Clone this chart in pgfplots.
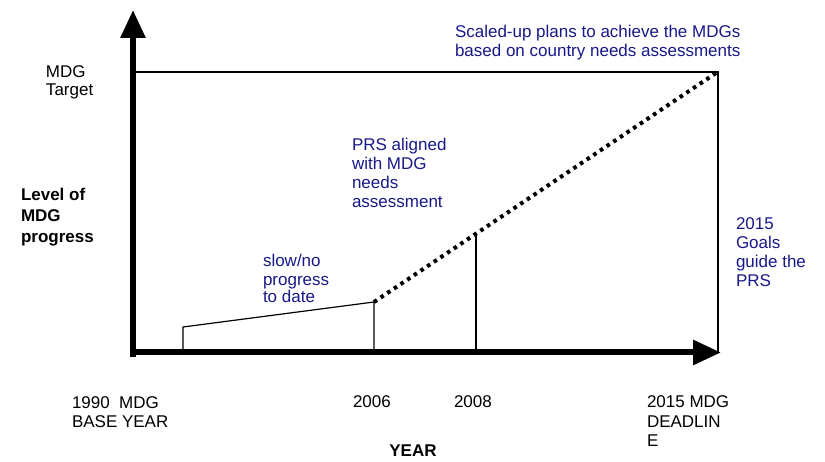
\documentclass[border=0pt]{standalone}
\usepackage{pgfplots}
\pgfplotsset{compat=1.18}
\usepackage{fontspec}
\setmainfont{Liberation Sans}
\usetikzlibrary{arrows.meta}
\definecolor{navytxt}{RGB}{24,24,136}
\tikzset{lbl/.style={font=\fontsize{8.5}{9.5}\selectfont, inner sep=0pt, outer sep=0pt, anchor=base west}}
\begin{document}
\begin{tikzpicture}
\begin{axis}[
  name=ax,
  scale only axis, width=412.5pt, height=230.5pt,
  xmin=0, xmax=825, ymin=0, ymax=461,
  hide axis, clip=false,
]
% thin lines
\addplot[black, line width=0.6pt] coordinates {(133,389) (718,389) (718,108)};
\addplot[black, line width=0.6pt] coordinates {(183,108) (183,134) (374,159) (374,108)};
\addplot[black, line width=0.6pt] coordinates {(476,108) (476,226)};
% dotted projection
\addplot[black, line width=2pt, dash pattern=on 1.8pt off 2.2pt] coordinates {(374,159) (716,388)};
% axes
\addplot[black, line width=3pt, -{Triangle[length=14pt,width=12pt]}] coordinates {(133,104) (133,451)};
\addplot[black, line width=3pt, -{Triangle[length=14pt,width=12pt]}] coordinates {(130,108.5) (721,108.5)};
% blue annotations
\begin{scope}[every node/.style={lbl, text=navytxt}]
\node at (axis cs:455,423) {Scaled-up plans to achieve the MDGs};
\node at (axis cs:455,404) {based on country needs assessments};
\node at (axis cs:352,310) {PRS aligned};
\node at (axis cs:352,291) {with MDG};
\node at (axis cs:352,272) {needs};
\node at (axis cs:352,253) {assessment};
\node at (axis cs:263,194) {slow/no};
\node at (axis cs:263,176) {progress};
\node at (axis cs:263,158) {to date};
\node at (axis cs:736,231) {2015};
\node at (axis cs:736,212) {Goals};
\node at (axis cs:736,193) {guide the};
\node at (axis cs:736,174) {PRS};
\end{scope}
% black labels
\begin{scope}[every node/.style={lbl}]
\node at (axis cs:46,383) {MDG};
\node at (axis cs:46,365) {Target};
\node[font=\fontsize{8.5}{9.5}\selectfont\bfseries] at (axis cs:21,260) {Level of};
\node[font=\fontsize{8.5}{9.5}\selectfont\bfseries] at (axis cs:21,239) {MDG};
\node[font=\fontsize{8.5}{9.5}\selectfont\bfseries] at (axis cs:21,218) {progress};
\node at (axis cs:72,53) {1990\ \ MDG};
\node at (axis cs:72,34) {BASE YEAR};
\node at (axis cs:353,54) {2006};
\node at (axis cs:454,54) {2008};
\node at (axis cs:647,54) {2015 MDG};
\node at (axis cs:647,34) {DEADLIN};
\node at (axis cs:647,15) {E};
\node[anchor=base, font=\fontsize{8.5}{9.5}\selectfont\bfseries] at (axis cs:413,5) {YEAR};
\end{scope}
\end{axis}
\pgfresetboundingbox
\path (ax.south west) rectangle (ax.north east);
\end{tikzpicture}
\end{document}
